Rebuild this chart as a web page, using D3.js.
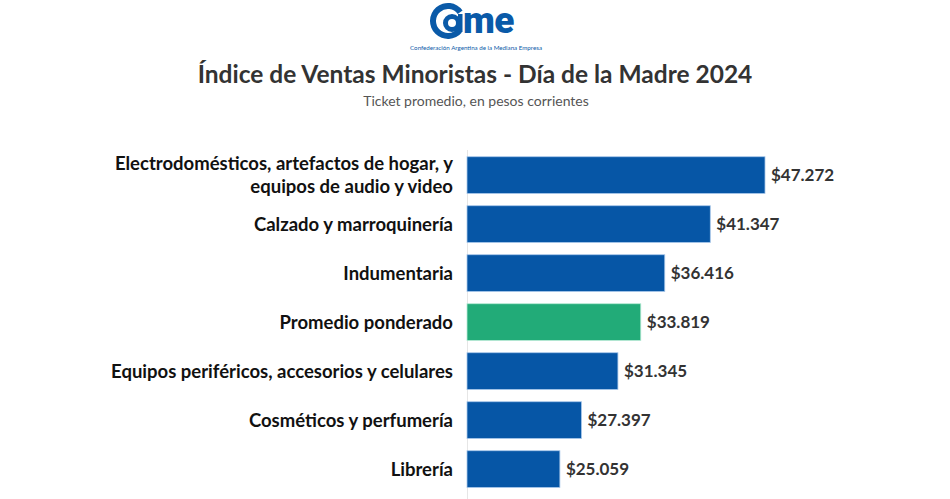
<!DOCTYPE html>
<html><head><meta charset="utf-8">
<script src="https://cdn.jsdelivr.net/npm/d3@7"></script>
<style>
body{margin:0;background:#fff;}
svg{display:block;}
</style></head>
<body>
<svg id="chart" width="950" height="499"></svg>
<script>
const categories = [
  ["Electrodomésticos, artefactos de hogar, y", "equipos de audio y video"],
  ["Calzado y marroquinería"],
  ["Indumentaria"],
  ["Promedio ponderado"],
  ["Equipos periféricos, accesorios y celulares"],
  ["Cosméticos y perfumería"],
  ["Librería"]
];
const values = [47272, 41347, 36416, 33819, 31345, 27397, 25059];
const valueLabels = ["$47.272", "$41.347", "$36.416", "$33.819", "$31.345", "$27.397", "$25.059"];
const highlight = [false, false, false, true, false, false, false];
const title = "Índice de Ventas Minoristas - Día de la Madre 2024";
const subtitle = "Ticket promedio, en pesos corrientes";

const svg = d3.select("#chart");
const FONT = "Lato, 'Source Sans Pro', sans-serif";
const LOGO = "#0a5aa8";

// Logo
const logo = svg.append("g");
const arc = d3.arc();
logo.append("path")
  .attr("transform", "translate(448,21)")
  .attr("d", arc({innerRadius: 12, outerRadius: 18, startAngle: Math.PI*0.72, endAngle: Math.PI*2.3}))
  .attr("fill", LOGO);
logo.append("path")
  .attr("transform", "translate(452,23)")
  .attr("d", arc({innerRadius: 4, outerRadius: 9, startAngle: 0, endAngle: Math.PI*2}))
  .attr("fill", LOGO);
logo.append("rect").attr("x", 458).attr("y", 14).attr("width", 4.5).attr("height", 18).attr("fill", LOGO);
logo.append("text").attr("x", 463).attr("y", 33)
  .attr("font-family", "Roboto, sans-serif").attr("font-weight", 900)
  .attr("font-size", 37).attr("fill", LOGO).attr("letter-spacing", -0.5)
  .text("me");
logo.append("text").attr("x", 476).attr("y", 50).attr("text-anchor", "middle")
  .attr("font-family", "Lato, sans-serif").attr("font-size", 6.2).attr("fill", LOGO)
  .text("Confederación Argentina de la Mediana Empresa");

// Titles
svg.append("text").attr("x", 475).attr("y", 83).attr("text-anchor", "middle")
  .attr("font-family", FONT).attr("font-weight", 700).attr("font-size", 24.5)
  .attr("fill", "#333").text(title);
svg.append("text").attr("x", 476).attr("y", 106).attr("text-anchor", "middle")
  .attr("font-family", FONT).attr("font-size", 14)
  .attr("fill", "#555").text(subtitle);

// Scales
const x = d3.scaleLinear().domain([15000, 50000]).range([467, 790.2]);
const y = d3.scaleBand().domain(d3.range(categories.length))
  .range([150.6, 493.6]).paddingInner(0.25).paddingOuter(0.125);

// axis line
svg.append("line").attr("x1", 467.5).attr("x2", 467.5).attr("y1", 150).attr("y2", 499)
  .attr("stroke", "#e6e6e6").attr("stroke-width", 1);

// bars
svg.append("g").selectAll("rect").data(values).join("rect")
  .attr("x", x(15000))
  .attr("y", (d, i) => y(i))
  .attr("width", d => x(d) - x(15000))
  .attr("height", y.bandwidth())
  .attr("fill", (d, i) => highlight[i] ? "#22ab78" : "#0656a6")
  .attr("stroke", (d, i) => highlight[i] ? "#b8ead6" : "#a9c8ea")
  .attr("stroke-width", 0.8);

// value labels
svg.append("g").selectAll("text").data(values).join("text")
  .attr("x", d => x(d) + 6)
  .attr("y", (d, i) => y(i) + y.bandwidth() / 2)
  .attr("dy", "0.35em")
  .attr("font-family", FONT).attr("font-weight", 700).attr("font-size", 17)
  .attr("fill", "#333")
  .text((d, i) => valueLabels[i]);

// category labels (each line its own text element)
const labG = svg.append("g");
categories.forEach((lines, i) => {
  const cy = y(i) + y.bandwidth() / 2;
  const lh = 22.5;
  lines.forEach((ln, k) => {
    labG.append("text")
      .attr("text-anchor", "end")
      .attr("font-family", FONT).attr("font-weight", 700).attr("font-size", 18.5)
      .attr("fill", "#111")
      .attr("x", 453)
      .attr("y", cy + (k - (lines.length - 1) / 2) * lh)
      .attr("dy", "0.35em").text(ln);
  });
});
</script>
</body></html>
